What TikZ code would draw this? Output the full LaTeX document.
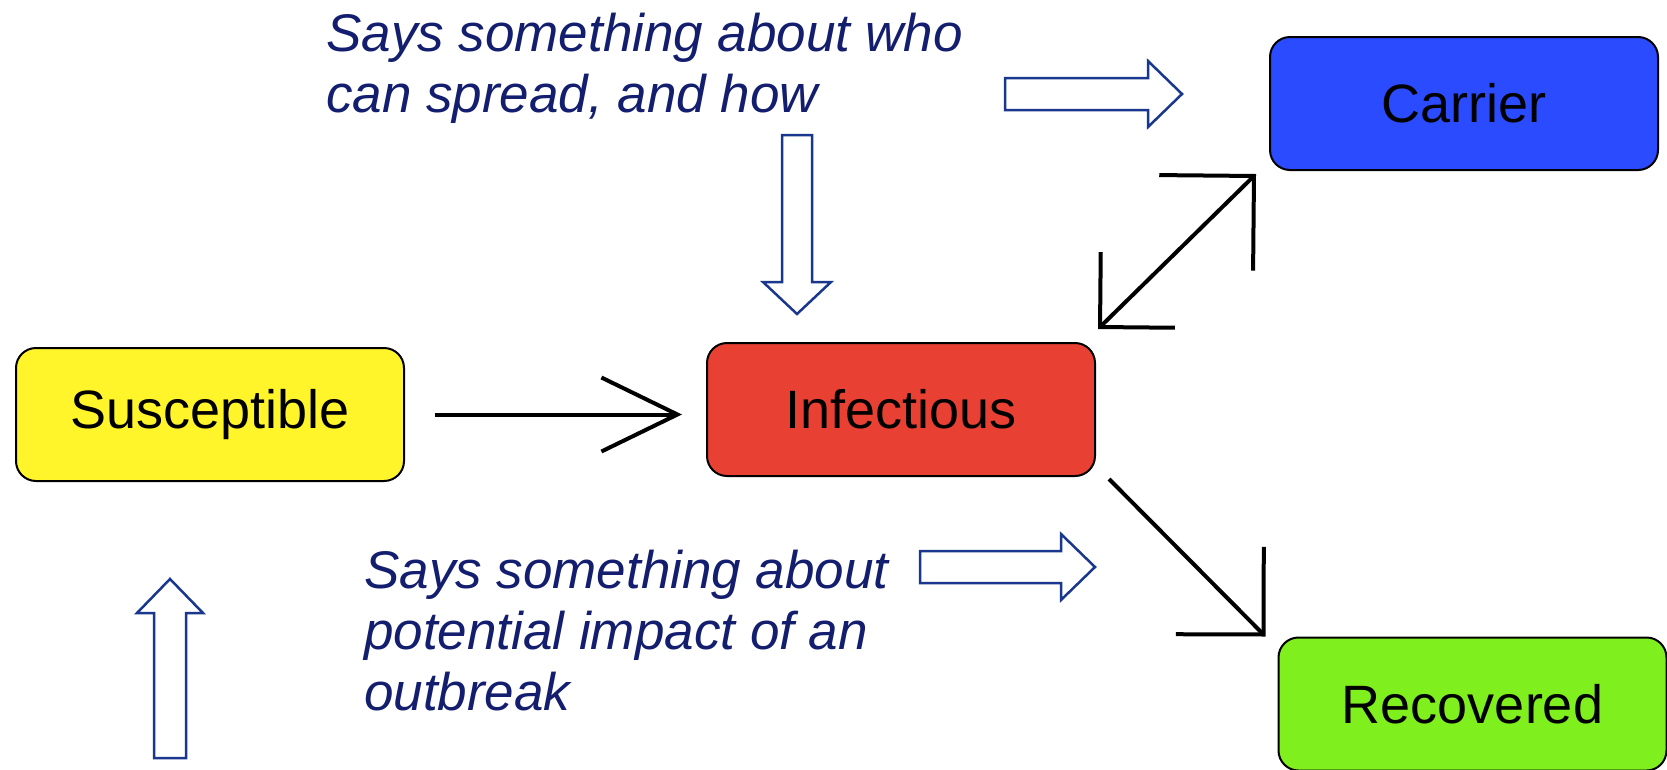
\documentclass[tikz,border=0pt]{standalone}
\usepackage{fontspec}
\setmainfont{Liberation Sans}
\usetikzlibrary{arrows.meta}
\definecolor{navy}{RGB}{20,30,110}
\definecolor{arrowblue}{RGB}{25,55,140}
\definecolor{syellow}{RGB}{255,245,42}
\definecolor{ired}{RGB}{232,64,50}
\definecolor{cblue}{RGB}{42,75,255}
\definecolor{rgreen}{RGB}{127,240,30}
\begin{document}
\begin{tikzpicture}[x=1pt,y=-1pt,
  state/.style={draw=black, line width=2pt, rounded corners=20pt, minimum width=388pt, minimum height=133pt, inner sep=0pt, font=\fontsize{54}{60}\selectfont},
  flow/.style={line width=4pt, draw=black},
  note/.style={text=navy, font=\fontsize{53}{61}\selectfont\itshape, align=left, inner sep=0pt, anchor=base west},
  block/.style={draw=arrowblue, line width=2.5pt, fill=white, line join=miter}]
\useasboundingbox (0,0) rectangle (1667,769);
% states
\node[state, fill=syellow] (sus) at (210,414.5) {Susceptible};
\node[state, fill=ired] (inf) at (901,409.5) {Infectious};
\node[state, fill=cblue] (car) at (1464,103.5) {Carrier};
\node[state, fill=rgreen] (rec) at (1472.5,704) {Recovered};
% flows
\draw[flow, -{Straight Barb[length=76pt,width=74pt]}, shorten <=30pt, shorten >=24pt]
  (sus.east) -- (sus.east -| inf.west);
\draw[flow, {Straight Barb[length=53pt,width=106pt]}-{Straight Barb[length=67pt,width=134pt]}]
  ([xshift=2pt,yshift=13pt]inf.north east) -- ([xshift=-13pt,yshift=-3pt]car.south west);
\draw[flow, -{Straight Barb[length=62pt,width=124pt]}]
  ([xshift=13pt,yshift=-2pt]inf.south east) -- ([xshift=-12pt]rec.north west);
% notes (anchored at the baseline of the last line)
\node[note] (t1) at (326,112) {Says something about who\\can spread, and how};
\node[note] (t2) at (364,710) {Says something about\\potential impact of an\\outbreak};
% block arrows
\draw[block] (1005,78) -- (1148,78) -- (1148,61) -- (1182,94) -- (1148,127) -- (1148,110) -- (1005,110) -- cycle;
\draw[block] (782,135) -- (812,135) -- (812,282) -- (831,282) -- (797,314) -- (763,282) -- (782,282) -- cycle;
\draw[block] (920,551) -- (1061,551) -- (1061,534) -- (1095,567) -- (1061,600) -- (1061,583) -- (920,583) -- cycle;
\draw[block] (154,758) -- (154,613) -- (137,613) -- (170,579) -- (203,613) -- (186,613) -- (186,758) -- cycle;
\end{tikzpicture}
\end{document}
